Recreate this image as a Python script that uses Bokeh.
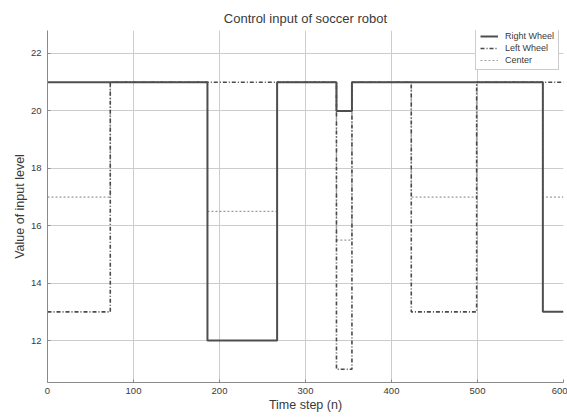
from bokeh.plotting import figure
from bokeh.models import Range1d, FixedTicker, Legend, LegendItem
from bokeh.embed import file_html
from bokeh.resources import INLINE

# Data
t_right = [0, 186, 267, 336, 354, 576, 600]
right_wheel = [21, 12, 21, 20, 21, 13, 13]

t_left = [0, 73, 336, 354, 423, 499, 600]
left_wheel = [13, 21, 11, 21, 13, 21, 21]

t_center = [0, 73, 186, 267, 336, 354, 423, 499, 576, 600]
center = [17, 21, 16.5, 21, 15.5, 21, 17, 21, 17, 17]

x_ticks = [0, 100, 200, 300, 400, 500, 600]
y_ticks = [12, 14, 16, 18, 20, 22]

FONT = "Liberation Sans"
TXT = "#3a3a3a"

p = figure(width=567, height=417, output_backend="svg", toolbar_location=None,
           x_range=Range1d(0, 600), y_range=Range1d(10.54, 22.8),
           min_border_left=47, min_border_right=4, min_border_top=30, min_border_bottom=35)

p.title.text = "Control input of soccer robot"
p.title.align = "center"
p.title.text_font = FONT
p.title.text_font_size = "13px"
p.title.text_font_style = "normal"
p.title.text_color = TXT
p.title.standoff = 10

p.outline_line_color = None
p.background_fill_color = "white"

for ax in (p.xaxis[0], p.yaxis[0]):
    ax.axis_line_color = "#8a8a8a"
    ax.major_tick_line_color = "#8a8a8a"
    ax.major_tick_in = 3
    ax.major_tick_out = 0
    ax.minor_tick_line_color = None
    ax.major_label_text_font = FONT
    ax.major_label_text_font_size = "9.5px"
    ax.major_label_text_color = TXT
    ax.axis_label_text_font = FONT
    ax.axis_label_text_font_size = "12.5px"
    ax.axis_label_text_font_style = "normal"
    ax.axis_label_text_color = TXT

p.xaxis.ticker = FixedTicker(ticks=x_ticks)
p.yaxis.ticker = FixedTicker(ticks=y_ticks)
p.xaxis.axis_label = "Time step (n)"
p.yaxis.axis_label = "Value of input level"
p.xaxis.major_label_standoff = 5
p.xaxis.axis_label_standoff = 1
p.yaxis.major_label_standoff = 6
p.yaxis.axis_label_standoff = 1

p.xgrid.ticker = FixedTicker(ticks=x_ticks)
p.ygrid.ticker = FixedTicker(ticks=y_ticks)
for g in (p.xgrid[0], p.ygrid[0]):
    g.grid_line_color = "#cccccc"
    g.grid_line_width = 1

r_c = p.step(t_center, center, mode="after", line_color="#9a9a9a", line_width=1.2,
             line_dash="2 2")
r_l = p.step(t_left, left_wheel, mode="after", line_color="#4a4a4a", line_width=1.6,
             line_dash="4 2 1 2")
r_r = p.step(t_right, right_wheel, mode="after", line_color="#4e4e4e", line_width=2)

legend = Legend(items=[LegendItem(label="Right Wheel", renderers=[r_r]),
                       LegendItem(label="Left Wheel", renderers=[r_l]),
                       LegendItem(label="Center", renderers=[r_c])],
                location=(428, 312))
legend.label_text_font = FONT
legend.label_text_font_size = "9px"
legend.label_text_color = TXT
legend.label_height = 10
legend.glyph_height = 10
legend.glyph_width = 18
legend.spacing = 2
legend.padding = 4
legend.margin = 0
legend.label_standoff = 7
legend.border_line_color = "#9a9a9a"
legend.border_line_width = 1
legend.background_fill_alpha = 1.0
p.add_layout(legend, "center")

open("out.html", "w").write(file_html(p, INLINE))
